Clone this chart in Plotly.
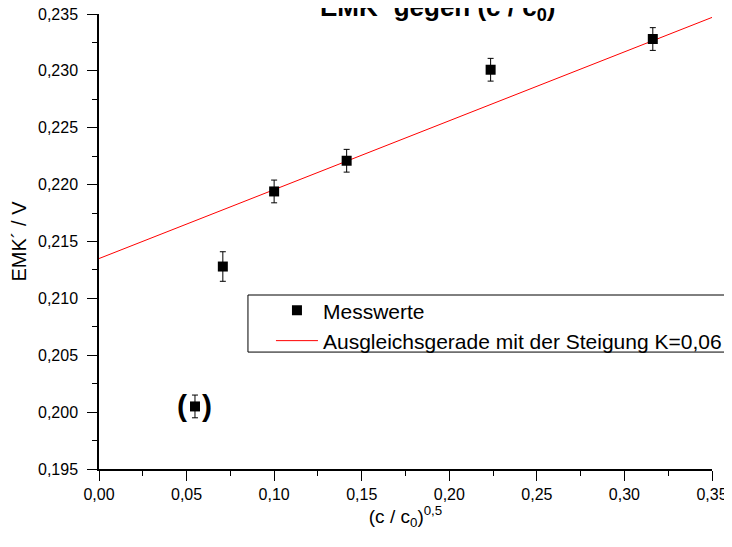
import plotly.graph_objects as go

# ---- data ----
x_vals = [0.0548, 0.0707, 0.1000, 0.1414, 0.2236, 0.3162]
y_vals = [0.2005, 0.2128, 0.2194, 0.2221, 0.2301, 0.2328]
y_err = [0.0010, 0.0013, 0.0010, 0.0010, 0.0010, 0.0010]
fit_x = [0.0, 0.35]
fit_y = [0.2135, 0.2347]
x_ticks = [0.00, 0.05, 0.10, 0.15, 0.20, 0.25, 0.30, 0.35]
y_ticks = [0.195, 0.200, 0.205, 0.210, 0.215, 0.220, 0.225, 0.230, 0.235]
excluded_index = 0  # point shown in parentheses

FONT = "Arial, Liberation Sans, sans-serif"

fig = go.Figure()
fig.add_trace(go.Scatter(
    x=fit_x, y=fit_y, mode="lines",
    name="Ausgleichsgerade mit der Steigung K=0,06",
    line=dict(color="red", width=1),
))
fig.add_trace(go.Scatter(
    x=x_vals, y=y_vals, mode="markers", name="Messwerte",
    marker=dict(symbol="square", size=10, color="black"),
    error_y=dict(type="data", array=y_err, visible=True, color="black", thickness=1, width=3),
))

# parentheses around the excluded point
for txt, sh in (("(", -13), (")", 12)):
    fig.add_annotation(
        x=x_vals[excluded_index], y=y_vals[excluded_index], xref="x", yref="y",
        text=txt, showarrow=False, xshift=sh, yshift=1,
        font=dict(family=FONT, size=30, color="black", weight="bold"),
    )

# title, partially cut at the top like the reference
fig.add_annotation(
    x=0.553, y=1, xref="paper", yref="paper", xanchor="center", yanchor="bottom",
    yshift=-13, showarrow=False,
    text="<b>EMK´ gegen (c / c<sub>0</sub>)</b>",
    font=dict(family=FONT, size=26, color="black"),
)

# legend frame that runs past the right edge, as in the reference
fig.add_shape(
    type="rect", xref="paper", yref="paper",
    x0=0.243, x1=1.1, y0=0.257, y1=0.3824,
    line=dict(color="black", width=1), fillcolor="white", layer="below",
)

axis_common = dict(
    showline=True, linecolor="black", linewidth=1.5, showgrid=False, zeroline=False,
    ticks="outside", ticklen=10, tickwidth=1, tickcolor="black",
    tickfont=dict(family=FONT, size=16, color="black"),
    ticklabeloverflow="allow",
)

fig.update_xaxes(
    range=[0, 0.35], tickvals=x_ticks, tickformat=".2f",
    minor=dict(ticks="outside", ticklen=5, tickcolor="black", tickwidth=1, dtick=0.025),
    title=dict(text="(c / c<sub>0</sub>)<sup>0,5</sup>", font=dict(family=FONT, size=19, color="black"), standoff=8),
    **axis_common,
)
fig.update_yaxes(
    range=[0.195, 0.235], tickvals=y_ticks, tickformat=".3f",
    minor=dict(ticks="outside", ticklen=5, tickcolor="black", tickwidth=1, dtick=0.0025),
    title=dict(text="EMK´ / V", font=dict(family=FONT, size=20, color="black"), standoff=6),
    ticklabelstandoff=6,
    **axis_common,
)

fig.update_layout(
    width=724, height=539,
    margin=dict(l=91, r=20, t=6, b=78, autoexpand=False),
    paper_bgcolor="white", plot_bgcolor="white",
    separators=",.",
    showlegend=True,
    legend=dict(
        x=0.243, y=0.393, xanchor="left", yanchor="top",
        bgcolor="rgba(0,0,0,0)", borderwidth=0,
        font=dict(family=FONT, size=21, color="black"),
        traceorder="reversed", tracegroupgap=0,
        indentation=23, itemwidth=42,
    ),
)

fig.write_html("out.html")
